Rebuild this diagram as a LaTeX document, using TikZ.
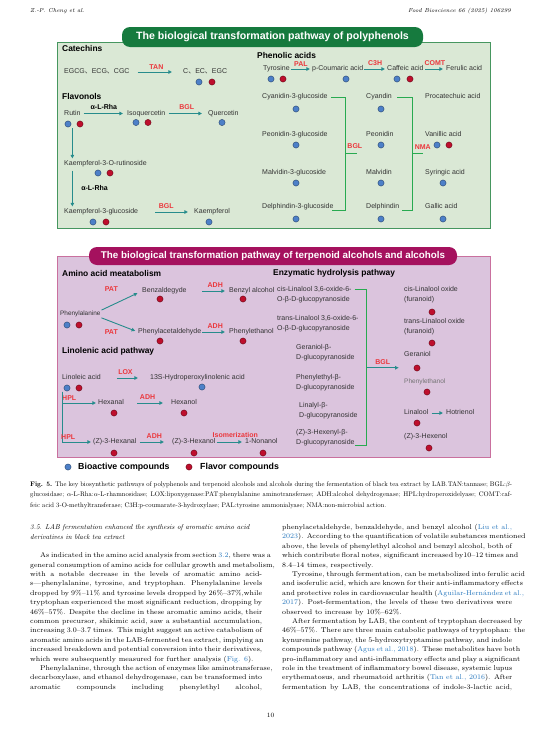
\documentclass[tikz,border=0pt]{standalone}
\usepackage{fontspec}
\setsansfont{Liberation Sans}
\newfontfamily\cjkfont{Noto Sans CJK SC}
\usepackage{graphicx}
\usepackage{tikz}
\usetikzlibrary{arrows.meta, positioning, calc}

\definecolor{boxgreen}{RGB}{218,232,213}
\definecolor{tabgreen}{RGB}{22,122,62}
\definecolor{linegreen}{RGB}{70,150,95}
\definecolor{brkgreen}{RGB}{40,170,80}
\definecolor{boxpink}{RGB}{219,196,221}
\definecolor{tabpink}{RGB}{165,17,94}
\definecolor{arrteal}{RGB}{38,140,140}
\definecolor{enzred}{RGB}{235,55,60}
\definecolor{biocol}{RGB}{77,128,200}
\definecolor{flavcol}{RGB}{190,15,45}
\definecolor{citeblue}{RGB}{40,120,190}

\newcommand\cit[1]{\textcolor{citeblue}{#1}}
\newcommand\bioc[1]{\filldraw[fill=biocol, draw=biocol!55!black, line width=0.4pt] (#1) circle (3.1pt);}
\newcommand\flav[1]{\filldraw[fill=flavcol, draw=flavcol!55!black, line width=0.4pt] (#1) circle (3.1pt);}
\newcommand\dun{{\cjkfont 、}}
% caption lines: 10pt design size scaled down
\newcommand\capline[2]{\scalebox{0.665}{\fontsize{10}{12}\selectfont\makebox[724.8pt][#1]{#2}}}

\begin{document}
\begin{tikzpicture}[x=1pt, y=-1pt,
    cpd/.style={anchor=west, inner sep=0pt, text height=5.1pt, text depth=1.5pt, font=\sffamily\fontsize{7}{8.4}\selectfont, text=black!80},
    cpd2/.style={anchor=west, inner sep=0pt, align=left, font=\sffamily\fontsize{7}{9.8}\selectfont, text=black!80},
    head/.style={anchor=west, inner sep=0pt, font=\sffamily\bfseries\fontsize{8.4}{10}\selectfont},
    enz/.style={inner sep=0.5pt, font=\sffamily\bfseries\fontsize{7}{8}\selectfont, text=enzred},
    rha/.style={inner sep=0.5pt, font=\sffamily\bfseries\fontsize{7}{8}\selectfont},
    arr/.style={-{Triangle[length=3.6pt, width=3.4pt]}, draw=arrteal, line width=0.9pt, shorten <=1pt, shorten >=2pt},
    brk/.style={draw=brkgreen, line width=1pt},
    tab/.style={rounded corners=8pt, inner sep=0pt, font=\sffamily\bfseries, text=white},
    bodyl/.style={inner sep=0pt, anchor=base west, font=\fontsize{7}{9}\selectfont},
    capl/.style={inner sep=0pt, anchor=base west}
  ]
  \useasboundingbox (0,0) rectangle (541,731);
  \fill[white] (0,0) rectangle (541,731);

  % page header
  \node[anchor=base west, inner sep=0pt, font=\itshape\fontsize{5.8}{7}\selectfont] (hdl) at (30,12) {Z.-P. Cheng et al.};
  \node[anchor=base east, inner sep=0pt, font=\itshape\fontsize{5.8}{7}\selectfont] (hdr) at (511,12) {Food Bioscience 66 (2025) 106299};

  % polyphenol panel
  \filldraw[fill=boxgreen, draw=linegreen, line width=0.6pt] (57,42) rectangle (490,228);
  \node[tab, fill=tabgreen, minimum width=301pt, minimum height=20pt, font=\sffamily\bfseries\fontsize{10.6}{12}\selectfont] (tab1) at (272.5,37) {The biological transformation pathway of polyphenols};

  \node[head] (catech) at (62,48) {Catechins};
  \node[cpd] (egcg) at (64,72) {EGCG\dun ECG\dun CGC};
  \node[cpd] (cec) at (183,72) {C\dun EC\dun EGC};
  \draw[arr, shorten <=8pt, shorten >=11pt] (egcg) -- node[enz, above=1.5pt] {TAN} (cec);
  \bioc{199,82} \flav{212,82}

  \node[head] (flavon) at (62,96) {Flavonols};
  \node[cpd] (rutin) at (64,113.5) {Rutin};
  \node[cpd] (isoq) at (127,113.5) {Isoquercetin};
  \node[cpd] (querc) at (208,113.5) {Quercetin};
  \draw[arr, shorten <=3pt, shorten >=4pt] (rutin) -- node[rha, above=2.5pt] {α-L-Rha} (isoq);
  \draw[arr, shorten <=3pt, shorten >=6pt] (isoq) -- node[enz, above=2.5pt] {BGL} (querc);
  \bioc{68,124} \flav{80,124}
  \bioc{136,122.5} \flav{148,122.5}
  \bioc{222,122.5}

  \node[cpd] (k3rut) at (64,164) {Kaempferol-3-O-rutinoside};
  \node[cpd] (k3glu) at (64,212) {Kaempferol-3-glucoside};
  \node[cpd] (kaemp) at (194,212) {Kaempferol};
  \draw[arr, shorten <=11pt] (rutin.south) -- (rutin.south |- k3rut.north);
  \draw[arr, shorten <=3pt] (rutin.south |- k3rut.south) -- node[rha, right=8pt] {α-L-Rha} (rutin.south |- k3glu.north);
  \draw[arr, shorten <=17pt, shorten >=6pt] (k3glu) -- node[enz, above=2.5pt] {BGL} (kaemp);
  \bioc{98,173} \flav{110,173}
  \bioc{93,222} \flav{106,222}
  \bioc{209,222}

  \node[head] (phen) at (257,55) {Phenolic acids};
  \node[cpd] (tyr) at (263,69) {Tyrosine};
  \node[cpd] (pcou) at (312,69) {p-Coumaric acid};
  \node[cpd] (caff) at (387,69) {Caffeic acid};
  \node[cpd] (feru) at (446,69) {Ferulic acid};
  \draw[arr] (tyr) -- node[enz, above=2pt] {PAL} (pcou);
  \draw[arr] (pcou) -- node[enz, above=2pt] {C3H} (caff);
  \draw[arr, shorten >=3pt] (caff) -- node[enz, above=2pt] {COMT} (feru);
  \bioc{271,79} \flav{283,79}
  \bioc{346,79}
  \bioc{397,79} \flav{410,79}

  \node[cpd] (cy3g) at (262,97) {Cyanidin-3-glucoside};
  \node[cpd] (pe3g) at (262,135) {Peonidin-3-glucoside};
  \node[cpd] (ma3g) at (262,173) {Malvidin-3-glucoside};
  \node[cpd] (de3g) at (262,207) {Delphindin-3-glucoside};
  \node[cpd] (cyan) at (366,97) {Cyandin};
  \node[cpd] (peon) at (366,135) {Peonidin};
  \node[cpd] (malv) at (366,173) {Malvidin};
  \node[cpd] (delp) at (366,207) {Delphindin};
  \node[cpd] (proc) at (425,97) {Procatechuic acid};
  \node[cpd] (vani) at (425,135) {Vanillic acid};
  \node[cpd] (syri) at (425,173) {Syringic acid};
  \node[cpd] (gall) at (425,207) {Gallic acid};
  \foreach \yy in {109,145,183,219} {\bioc{296,\yy} \bioc{381,\yy}}
  \bioc{437,145} \flav{449,145}
  \bioc{443,183}
  \bioc{443,219}

  \draw[brk] ([xshift=3pt]cy3g.east) -- ++(15,0) coordinate (b1t) -- (b1t |- de3g.south) coordinate (b1b) -- ++(-14,0);
  \coordinate (b1m) at ($(b1t)!.5!(b1b)$);
  \draw[brk] (b1m) -- ++(11,0);
  \node[enz, anchor=south west] (bgl2) at ([xshift=1pt, yshift=4pt]b1m) {BGL};
  \draw[brk] ([xshift=5pt]cyan.east) -- ++(15,0) coordinate (b2t) -- (b2t |- delp.south) coordinate (b2b) -- ++(-10,0);
  \coordinate (b2m) at ($(b2t)!.5!(b2b)$);
  \draw[brk] (b2m) -- ++(11,0);
  \node[enz, anchor=south west] (nma) at ([xshift=2pt, yshift=4pt]b2m) {NMA};

  % terpenoid alcohol panel
  \filldraw[fill=boxpink, draw=tabpink!60, line width=0.6pt] (57,256) rectangle (490,457);
  \node[tab, fill=tabpink, minimum width=368pt, minimum height=18pt, font=\sffamily\bfseries\fontsize{9.8}{12}\selectfont] (tab2) at (273,256) {The biological transformation pathway of terpenoid alcohols and alcohols};

  \node[head] (aahead) at (62,273) {Amino acid meatabolism};
  \node[head] (ezhead) at (273,273) {Enzymatic hydrolysis pathway};

  \node[cpd, font=\sffamily\fontsize{6.4}{8}\selectfont] (phe) at (60,314) {Phenylalanine};
  \node[cpd] (benz) at (142,291) {Benzaldegyde};
  \node[cpd] (balc) at (229,291) {Benzyl alcohol};
  \node[cpd] (phac) at (138,332) {Phenylacetaldehyde};
  \node[cpd] (pheth) at (229,332) {Phenylethanol};
  \draw[arr, shorten >=5pt] (phe.north east) -- node[enz, xshift=-10pt, yshift=12pt] {PAT} (benz.west);
  \draw[arr, shorten >=3pt] (phe.south east) -- node[enz, xshift=-8pt, yshift=-7pt] {PAT} (phac.west);
  \draw[arr, shorten >=4pt] (phac.east |- benz.east) -- node[enz, above=3pt] {ADH} (balc);
  \draw[arr, shorten >=4pt] (phac) -- node[enz, above=3pt] {ADH} (pheth);
  \bioc{67,325} \flav{79,325}
  \flav{160,299} \flav{243,299}
  \flav{160,341} \flav{243,341}

  \node[head] (lnhead) at (62,351) {Linolenic acid pathway};
  \node[cpd] (lin) at (62,378) {Linoleic acid};
  \node[cpd] (hpox) at (150,378) {13S-Hydroperoxylinolenic acid};
  \draw[arr, shorten <=16pt, shorten >=12pt] (lin) -- node[enz, above=2.5pt] {LOX} (hpox);
  \bioc{67,388} \flav{79,388}
  \bioc{202,387}

  \node[cpd] (hexal) at (98,403) {Hexanal};
  \node[cpd] (hexol) at (171,403) {Hexanol};
  \node[cpd] (zhexal) at (93,442) {(Z)-3-Hexanal};
  \node[cpd] (zhexol) at (172,442) {(Z)-3-Hexanol};
  \node[cpd] (nonol) at (245,442) {1-Nonanol};
  \draw[arr, shorten <=10pt] (lin.south west) |- node[enz, pos=.6, above=1.5pt] {HPL} (hexal);
  \draw[arr, shorten <=10pt] (lin.south west) |- node[enz, pos=.6, above=1.5pt] {HPL} (zhexal);
  \draw[arr, shorten <=13pt, shorten >=8pt] (hexal) -- node[enz, above=3pt] {ADH} (hexol);
  \draw[arr, shorten <=3pt, shorten >=8pt] (zhexal) -- node[enz, above=3pt] {ADH} (zhexol);
  \draw[arr, shorten >=3pt] (zhexol) -- node[enz, above=3pt, xshift=5pt] {Isomerization} (nonol);
  \flav{114,413} \flav{184,413}
  \flav{114,453} \flav{194,453} \flav{263,453}

  \node[cpd2] (g1) at (277,295) {cis-Linalool 3,6-oxide-6-\\O-β-D-glucopyranoside};
  \node[cpd2] (g2) at (277,324) {trans-Linalool 3,6-oxide-6-\\O-β-D-glucopyranoside};
  \node[cpd2] (g3) at (296,353) {Geraniol-β-\\D-glucopyranoside};
  \node[cpd2] (g4) at (296,382.5) {Phenylethyl-β-\\D-glucopyranoside};
  \node[cpd2] (g5) at (299,410.5) {Linalyl-β-\\D-glucopyranoside};
  \node[cpd2] (g6) at (296,437.5) {(Z)-3-Hexenyl-β-\\D-glucopyranoside};
  \draw[brk] ([xshift=3pt, yshift=-3pt]g1.north east) -- ++(12,0) coordinate (b3t) -- (b3t |- g6.south) coordinate (b3b) -- ++(-12,0);
  \coordinate (b3m) at ($(b3t)!.5!(b3b)$);
  \coordinate (b3e) at ([xshift=32pt]b3m);
  \draw[arr, shorten <=0pt, shorten >=0pt] (b3m) -- node[enz, above=2pt] {BGL} (b3e);

  \node[cpd2] (r1) at (404,295) {cis-Linalool oxide\\(furanoid)};
  \node[cpd2] (r2) at (404,326.5) {trans-Linalool oxide\\(furanoid)};
  \node[cpd] (r3) at (404,355) {Geraniol};
  \node[cpd, font=\sffamily\fontsize{6.5}{8}\selectfont, text=black!55] (r4) at (404,382) {Phenylethanol};
  \node[cpd] (r5) at (404,413) {Linalool};
  \node[cpd] (r6) at (446,413) {Hotrienol};
  \node[cpd] (r7) at (404,437) {(Z)-3-Hexenol};
  \draw[arr, shorten <=3pt, shorten >=3pt] (r5) -- (r6);
  \flav{432,312} \flav{432,343} \flav{417,368} \flav{427,392} \flav{417,423} \flav{429,448}

  % legend
  \bioc{68,467}
  \node[head, font=\sffamily\bfseries\fontsize{8.8}{10}\selectfont] (lgbio) at (78,467) {Bioactive compounds};
  \flav{189,467}
  \node[head, font=\sffamily\bfseries\fontsize{8.8}{10}\selectfont] (lgflav) at (200,467) {Flavor compounds};

  % caption
  \node[capl] (cap1) at (30,486.2) {\capline{s}{\textbf{Fig. 5.} The key biosynthetic pathways of polyphenols and terpenoid alcohols and alcohols during the fermentation of black tea extract by LAB.TAN:tannase; BGL:$\beta$-}};
  \node[capl] (cap2) at (30,496.6) {\capline{s}{glucosidase; $\alpha$-L-Rha:$\alpha$-L-rhamnosidase; LOX:lipoxygenase:PAT:phenylalanine aminotransferase; ADH:alcohol dehydrogenase; HPL:hydroperoxidelyase; COMT:caf-}};
  \node[capl] (cap3) at (30,507) {\capline{l}{feic acid 3-O-methyltransferase; C3H:p-coumarate-3-hydroxylase; PAL:tyrosine ammonialyase; NMA:non-microbial action.}};

  % section heading
  \node[capl] (sec1) at (30,529.5) {\scalebox{0.71}{\fontsize{10}{12}\selectfont\itshape 3.5. LAB fermentation enhanced the synthesis of aromatic amino acid}};
  \node[capl] (sec2) at (30,539.5) {\scalebox{0.71}{\fontsize{10}{12}\selectfont\itshape derivatives in black tea extract}};

  % left column
  \foreach \al/\tx [count=\i from 0] in {
    s/{\hspace*{10pt}As indicated in the amino acid analysis from section \cit{3.2}, there was a},
    s/{general consumption of amino acids for cellular growth and metabolism,},
    s/{with a notable decrease in the levels of aromatic amino acid-},
    s/{s---phenylalanine, tyrosine, and tryptophan. Phenylalanine levels},
    s/{dropped by 9\%--11\% and tyrosine levels dropped by 26\%--37\%,while},
    s/{tryptophan experienced the most significant reduction, dropping by},
    s/{46\%--57\%. Despite the decline in these aromatic amino acids, their},
    s/{common precursor, shikimic acid, saw a substantial accumulation,},
    s/{increasing 3.0--3.7 times. This might suggest an active catabolism of},
    s/{aromatic amino acids in the LAB-fermented tea extract, implying an},
    s/{increased breakdown and potential conversion into their derivatives,},
    l/{which were subsequently measured for further analysis (\cit{Fig. 6}).},
    s/{\hspace*{10pt}Phenylalanine, through the action of enzymes like aminotransferase,},
    s/{decarboxylase, and ethanol dehydrogenase, can be transformed into},
    s/{aromatic compounds including phenylethyl alcohol,}} {
    \node[bodyl] (lcol\i) at (30,{557.7+9.4*\i}) {\makebox[232pt][\al]{\tx}};
  }

  % right column
  \foreach \al/\tx [count=\i from 0] in {
    s/{phenylacetaldehyde, benzaldehyde, and benzyl alcohol (\cit{Liu et al.,}},
    s/{\cit{2023}). According to the quantification of volatile substances mentioned},
    s/{above, the levels of phenylethyl alcohol and benzyl alcohol, both of},
    s/{which contribute floral notes, significant increased by10--12 times and},
    l/{8.4--14 times, respectively.},
    s/{\hspace*{10pt}Tyrosine, through fermentation, can be metabolized into ferulic acid},
    s/{and isoferulic acid, which are known for their anti-inflammatory effects},
    s/{and protective roles in cardiovascular health (\cit{Aguilar-Hernández et al.,}},
    s/{\cit{2017}). Post-fermentation, the levels of these two derivatives were},
    l/{observed to increase by 10\%--62\%.},
    s/{\hspace*{10pt}After fermentation by LAB, the content of tryptophan decreased by},
    s/{46\%--57\%. There are three main catabolic pathways of tryptophan: the},
    s/{kynurenine pathway, the 5-hydroxytryptamine pathway, and indole},
    s/{compounds pathway (\cit{Agus et al., 2018}). These metabolites have both},
    s/{pro-inflammatory and anti-inflammatory effects and play a significant},
    s/{role in the treatment of inflammatory bowel disease, systemic lupus},
    s/{erythematosus, and rheumatoid arthritis (\cit{Tan et al., 2016}). After},
    s/{fermentation by LAB, the concentrations of indole-3-lactic acid,}} {
    \node[bodyl] (rcol\i) at (282,{529.5+9.4*\i}) {\makebox[230pt][\al]{\tx}};
  }

  \node[anchor=base, inner sep=0pt, font=\fontsize{6.5}{8}\selectfont] (pgno) at (270.5,717) {10};
\end{tikzpicture}
\end{document}
